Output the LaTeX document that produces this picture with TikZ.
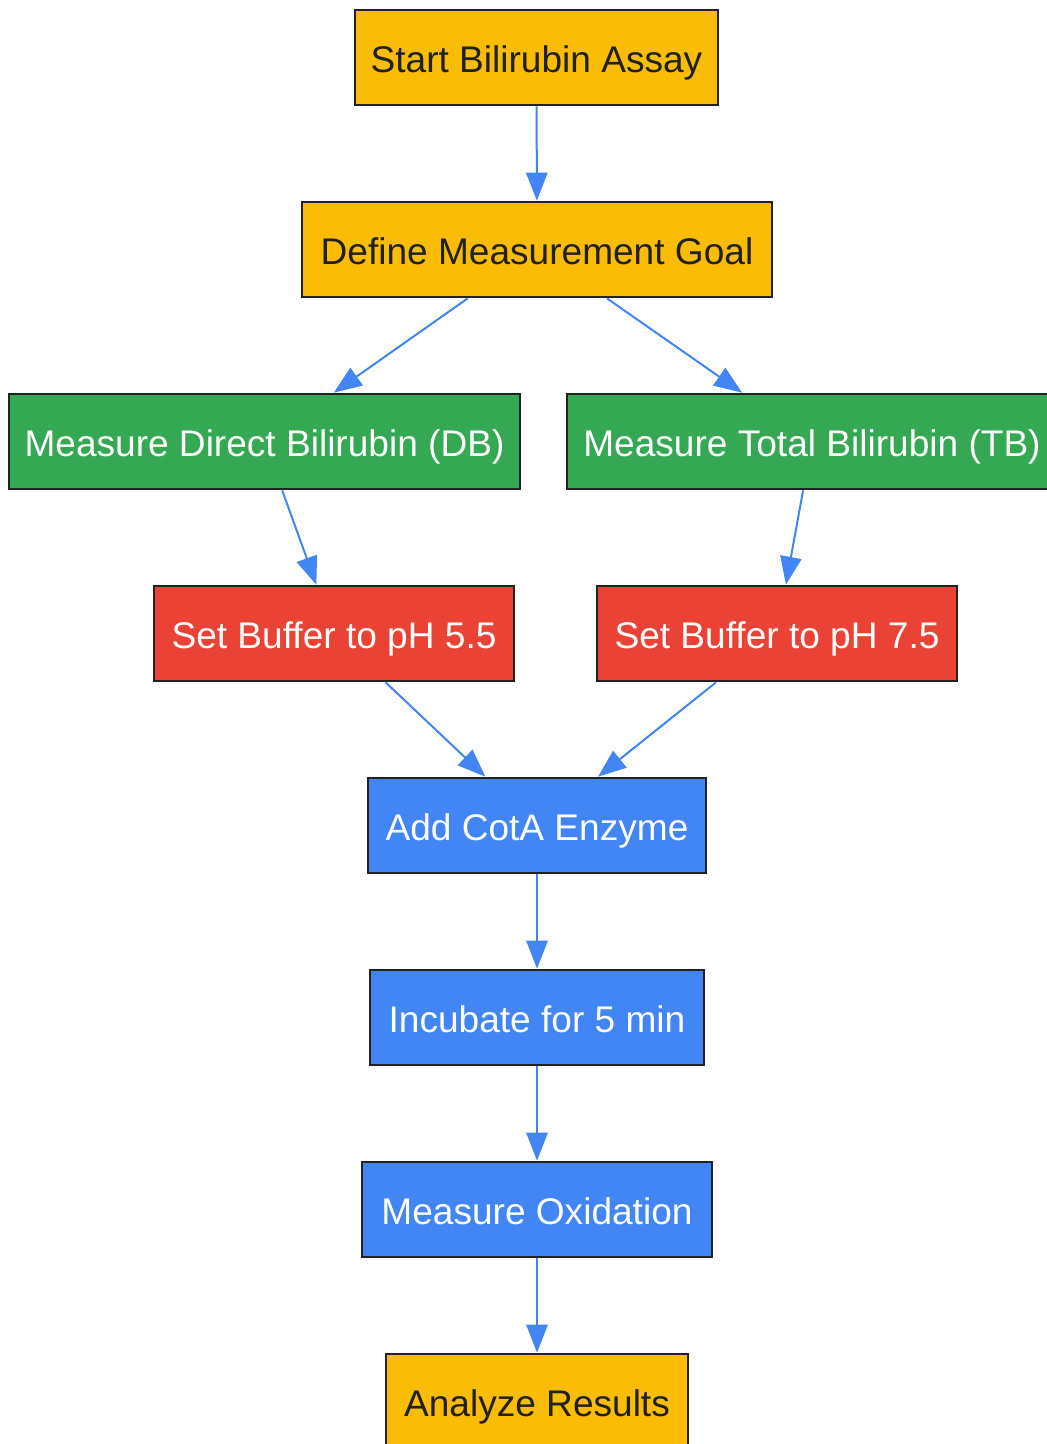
\documentclass[tikz,border=0pt]{standalone}
\usepackage{fontspec}
\setmainfont{Liberation Sans}
\usepackage{xcolor}
\usetikzlibrary{arrows.meta}

\definecolor{gYellow}{HTML}{FBBC05}
\definecolor{gGreen}{HTML}{34A853}
\definecolor{gRed}{HTML}{EA4335}
\definecolor{gBlue}{HTML}{4285F4}
\definecolor{boxLine}{HTML}{222222}
\definecolor{darkText}{HTML}{202124}

\begin{document}
\begin{tikzpicture}[
		x=0.75pt, y=-0.75pt,
		box/.style={rectangle, draw=boxLine, line width=2pt, inner sep=0pt,
			minimum width=#1*0.75pt, minimum height=71.25pt,
			text height=22.1pt, text depth=0pt,
			font=\fontsize{27.8}{33}\selectfont},
		goal/.style={box=#1, fill=gYellow, text=darkText},
		measure/.style={box=#1, fill=gGreen, text=white},
		buffer/.style={box=#1, fill=gRed, text=white},
		assay/.style={box=#1, fill=gBlue, text=white},
		flow/.style={draw=gBlue, line width=1.5pt, -{Triangle[length=21pt, width=16pt]}}
	]
	
	% the page, in pixels of the reference
	\useasboundingbox (0,0) rectangle (1046,1444);
	
	% the steps
	\node[goal=363] (start) at (536.5,57.5) {Start Bilirubin Assay};
	\node[goal=470] (defineGoal) at (537,249.5) {Define Measurement Goal};
	\node[measure=511] (measureDB) at (264.5,441.5) {Measure Direct Bilirubin (DB)};
	\node[measure=490] (measureTB) at (812,441.5) {Measure Total Bilirubin (TB)};
	\node[buffer=360] (bufferLow) at (334,633.5) {Set Buffer to pH 5.5};
	\node[buffer=360] (bufferHigh) at (777,633.5) {Set Buffer to pH 7.5};
	\node[assay=338] (addEnzyme) at (537,825.5) {Add CotA Enzyme};
	\node[assay=334] (incubate) at (537,1017.5) {Incubate for 5 min};
	\node[assay=350] (oxidation) at (537,1209.5) {Measure Oxidation};
	\node[goal=302] (analyze) at (537,1401.5) {Analyze Results};
	
	% the connectors
	\draw[flow] (start) -- (defineGoal);
	\draw[flow] (defineGoal) -- (measureDB);
	\draw[flow] (defineGoal) -- (measureTB);
	\draw[flow] (measureDB) -- (bufferLow);
	\draw[flow] (measureTB) -- (bufferHigh);
	\draw[flow] (bufferLow) -- (addEnzyme);
	\draw[flow] (bufferHigh) -- (addEnzyme);
	\draw[flow] (addEnzyme) -- (incubate);
	\draw[flow] (incubate) -- (oxidation);
	\draw[flow] (oxidation) -- (analyze);
	
\end{tikzpicture}
\end{document}
